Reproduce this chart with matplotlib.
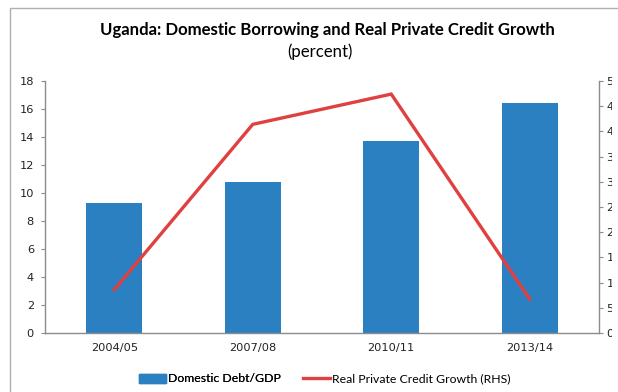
import matplotlib
matplotlib.use("Agg")
import matplotlib.pyplot as plt
from matplotlib.patches import Rectangle
from matplotlib.lines import Line2D
from matplotlib.transforms import Bbox, TransformedBbox

# Data
periods = ["2004/05", "2007/08", "2010/11", "2013/14"]
domestic_debt_gdp = [9.3, 10.8, 13.7, 16.4]
real_private_credit_growth = [8.6, 41.4, 47.4, 6.7]
left_ticks = [0, 2, 4, 6, 8, 10, 12, 14, 16, 18]
right_ticks = [0, 5, 10, 15, 20, 25, 30, 35, 40, 45, 50]

BAR_COLOR = "#2A80C1"
LINE_COLOR = "#E0403F"
AXIS_COLOR = "#8C8C8C"

W, H = 618, 392
fig = plt.figure(figsize=(W / 100, H / 100), dpi=100)

# chart-area frame (extends past right and bottom edges)
fig.patches.append(Rectangle((10 / W, -0.1), 1.2, 1 - 8 / H + 0.1,
                             transform=fig.transFigure, fill=False,
                             edgecolor="#B0B0B0", linewidth=1.0))

left, right, bottom, top = 45, 599, 333, 81
ax = fig.add_axes([left / W, 1 - bottom / H, (right - left) / W, (bottom - top) / H])
ax2 = ax.twinx()

x = list(range(len(periods)))
ax.bar(x, domestic_debt_gdp, width=0.405, color=BAR_COLOR, zorder=2)
ax2.plot(x, real_private_credit_growth, color=LINE_COLOR, linewidth=2.4,
         solid_joinstyle="miter", zorder=3)

ax.set_xlim(-0.5, len(periods) - 0.5)
ax.set_ylim(0, 18)
ax2.set_ylim(0, 50)
ax.set_xticks(x)
ax.set_xticklabels(periods)
ax.set_yticks(left_ticks)
ax2.set_yticks(right_ticks)
ax2.set_yticklabels([str(v) for v in right_ticks])

for a in (ax, ax2):
    for lbl in a.get_xticklabels() + a.get_yticklabels():
        lbl.set_fontfamily("DejaVu Sans")
        lbl.set_fontsize(8.2)
        lbl.set_color("#222222")
    for s in a.spines.values():
        s.set_visible(False)

ax.spines["left"].set_visible(True)
ax.spines["bottom"].set_visible(True)
ax2.spines["right"].set_visible(True)
for s in (ax.spines["left"], ax.spines["bottom"], ax2.spines["right"]):
    s.set_color(AXIS_COLOR)
    s.set_linewidth(1.0)

ax.tick_params(axis="y", direction="out", length=3, color=AXIS_COLOR, pad=5)
ax.tick_params(axis="x", length=0, pad=7)
ax2.tick_params(axis="y", direction="out", length=3, color=AXIS_COLOR, pad=2.3)
ax.set_zorder(ax2.get_zorder() - 1)
ax.patch.set_visible(True)
ax2.patch.set_visible(False)

# the chart area ends just past the first digit of the right-hand labels
rhs_clip = TransformedBbox(Bbox([[0, 0], [612 / W, 1]]), fig.transFigure)
for lbl in ax2.yaxis.get_majorticklabels():
    lbl.set_clip_box(rhs_clip)
    lbl.set_clip_on(True)

fig.text(327 / W, 1 - 30 / H, "Uganda: Domestic Borrowing and Real Private Credit Growth",
         ha="center", va="center", fontsize=12.1, fontweight="bold", family="Lato")
fig.text(320 / W, 1 - 52 / H, "(percent)", ha="center", va="center",
         fontsize=12.1, family="Lato")

legend_font = dict(family="Lato", size=8.8)
leg1 = fig.legend([Rectangle((0, 0), 1, 1, color=BAR_COLOR)], ["Domestic Debt/GDP"],
                  loc="center left", bbox_to_anchor=(128 / W, 1 - 379 / H),
                  frameon=False, prop=legend_font, handlelength=2.2,
                  handletextpad=0.15)
fig.legend([Line2D([0], [0], color=LINE_COLOR, linewidth=2.4)],
           ["Real Private Credit Growth (RHS)"],
           loc="center left", bbox_to_anchor=(292 / W, 1 - 379 / H),
           frameon=False, prop=legend_font, handlelength=2.2,
           handletextpad=0.15)
fig.add_artist(leg1)

fig.savefig("out.png", dpi=100)
